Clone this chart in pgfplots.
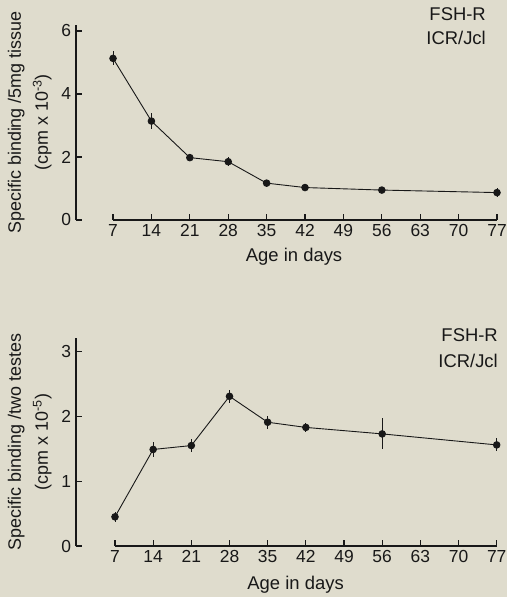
\documentclass[border=0pt]{standalone}
\usepackage{pgfplots}
\pgfplotsset{compat=1.18}
\usepackage{fontspec}
\setmainfont{Liberation Sans}
\definecolor{paper}{RGB}{223,220,205}
\definecolor{ink}{RGB}{24,24,24}

\pgfplotstableread{
x  y    e
7  5.13 0.22
14 3.14 0.25
21 1.98 0.08
28 1.85 0.15
35 1.17 0.06
42 1.03 0.05
56 0.95 0.05
77 0.87 0.15
}\tissue

\pgfplotstableread{
x  y    e
7  0.45 0.08
14 1.49 0.12
21 1.55 0.10
28 2.31 0.10
35 1.91 0.10
42 1.83 0.07
56 1.73 0.24
77 1.56 0.10
}\testes

\begin{document}
\begin{tikzpicture}
\fill[paper] (0bp,0bp) rectangle (507bp,597bp);
\pgfplotsset{
  fshaxis/.style={
    scale only axis, clip=false,
    axis x line*=bottom, axis y line*=left,
    axis line style={draw=none},
    xmax=77,
    xtick={7,14,...,77},
    tick align=inside,
    major tick length=5.5bp,
    every tick/.style={ink, line width=1.1pt},
    tick label style={font=\fontsize{17.5}{20}\selectfont, text=ink},
    yticklabel style={xshift=-1.5bp},
    xticklabel style={yshift=-1bp},
    /pgf/number format/assume math mode=true,
    xlabel={Age in days},
    xlabel style={font=\fontsize{18.5}{22}\selectfont, text=ink, anchor=center},
    ylabel style={font=\fontsize{18}{27}\selectfont, align=center, text=ink,
      at={(axis description cs:-0.11,0.5)}, anchor=center},
  },
  fshplot/.style={ink, line width=0.9pt, mark=*, mark size=3.3bp,
    mark options={solid, fill=ink},
    error bars/.cd, y dir=both, y explicit,
    error bar style={line width=0.9pt}, error mark=none},
}

% upper panel: binding per 5 mg tissue
\begin{axis}[fshaxis,
  at={(76bp,377bp)}, anchor=south west,
  width=421bp, height=195bp,
  xmin=0.25, ymin=0, ymax=6.19,
  ytick={0,2,4,6},
  xlabel style={at={(axis description cs:0.518,0)}, yshift=-37bp},
  ylabel={Specific binding /5mg tissue\\(cpm x 10\textsuperscript{-3})},
]
\draw[ink, line width=1.2pt] (rel axis cs:0,0) -- (rel axis cs:0,1);
\draw[ink, line width=1.2pt] (axis cs:7,0) -- (axis cs:77,0);
\addplot[fshplot] table[x=x, y=y, y error=e] {\tissue};
\end{axis}

% lower panel: binding per two testes
\begin{axis}[fshaxis,
  at={(76bp,51bp)}, anchor=south west,
  width=420.7bp, height=208bp,
  xmin=-0.15, ymin=0, ymax=3.21,
  ytick={0,1,2,3},
  xlabel style={at={(axis description cs:0.522,0)}, yshift=-39bp},
  ylabel={Specific binding /two testes\\(cpm x 10\textsuperscript{-5})},
]
\draw[ink, line width=1.2pt] (rel axis cs:0,0) -- (rel axis cs:0,1);
\draw[ink, line width=1.2pt] (axis cs:7,0) -- (axis cs:77,0);
\addplot[fshplot] table[x=x, y=y, y error=e] {\testes};
\end{axis}

\node[anchor=north east, inner sep=0, align=right, text=ink,
  font=\fontsize{18.5}{25}\selectfont] at (486bp,590bp) {FSH-R\\ICR/Jcl};
\node[anchor=north east, inner sep=0, align=right, text=ink,
  font=\fontsize{18.5}{27}\selectfont] at (498bp,269bp) {FSH-R\\ICR/Jcl};
\end{tikzpicture}
\end{document}
